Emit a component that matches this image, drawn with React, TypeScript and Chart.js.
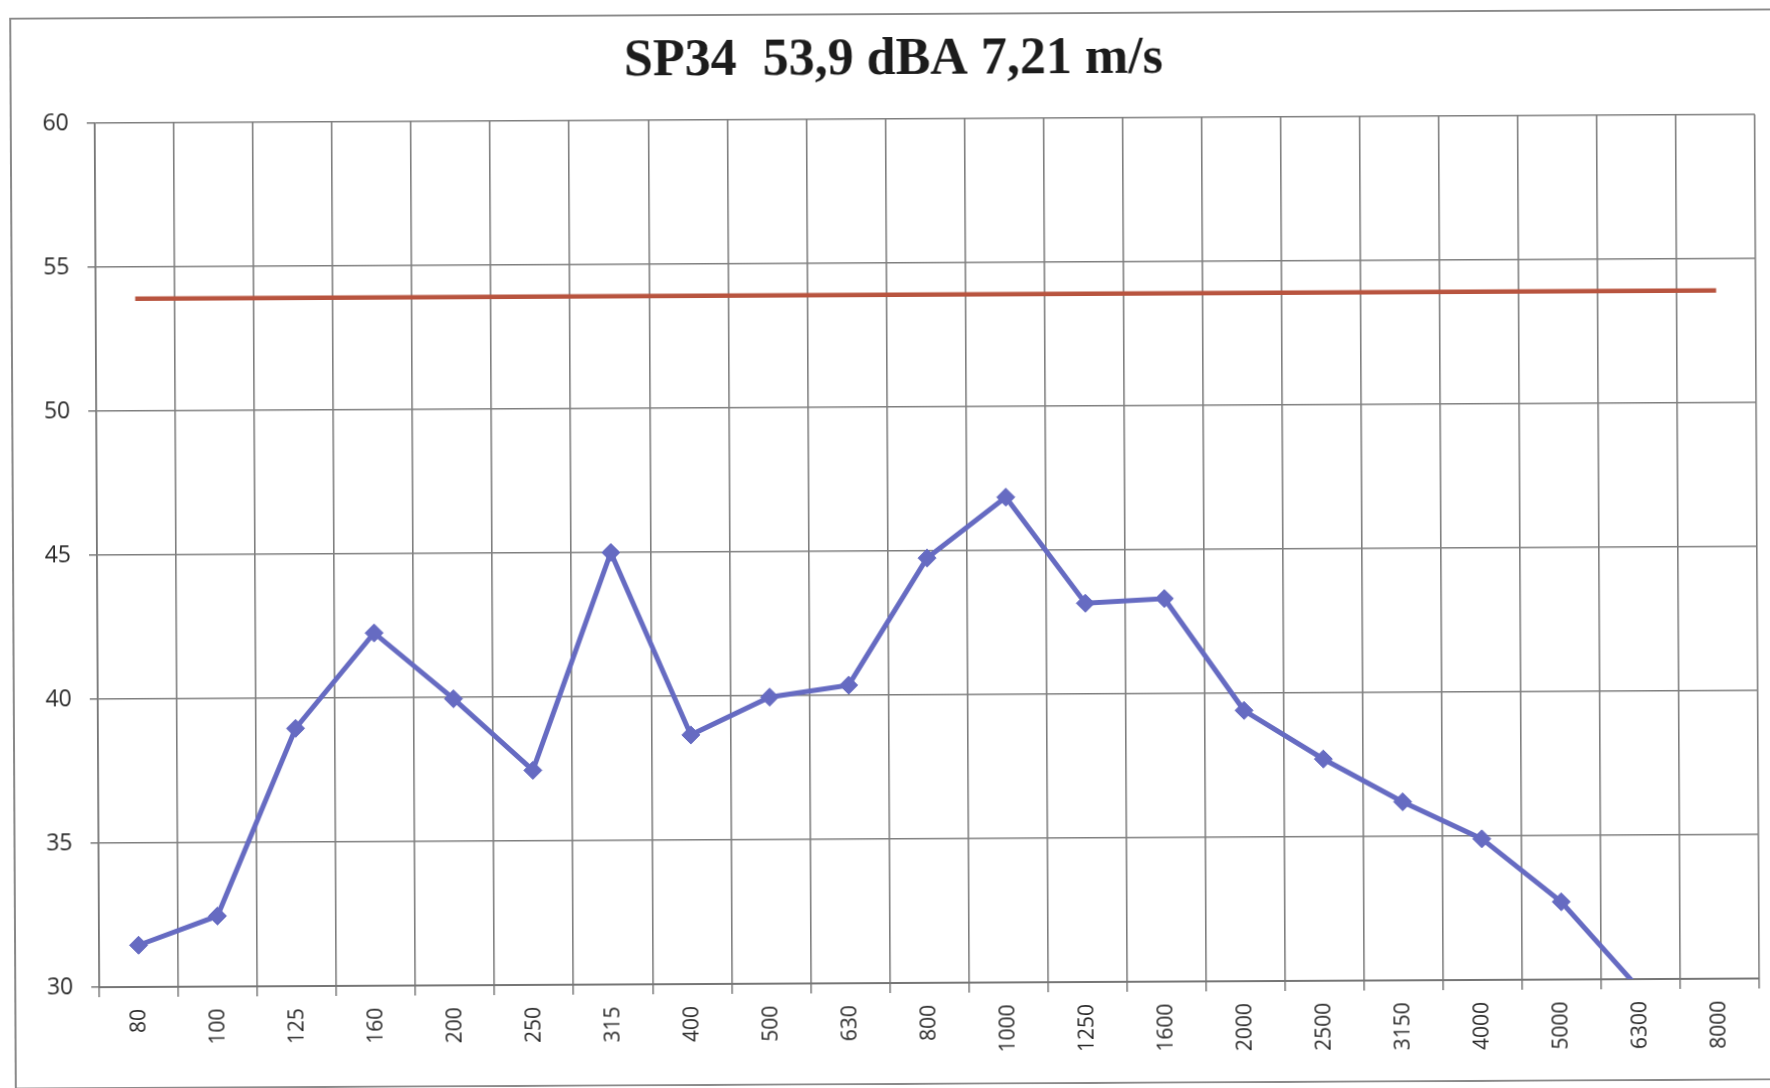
import React, { useEffect, useRef } from "react";
import { Chart, registerables } from "chart.js";

Chart.register(...registerables);

const frequencies = ["80", "100", "125", "160", "200", "250", "315", "400", "500", "630", "800", "1000", "1250", "1600", "2000", "2500", "3150", "4000", "5000", "6300", "8000"];
const spectrum = [31.45, 32.45, 38.95, 42.25, 39.95, 37.45, 45.0, 38.65, 39.95, 40.35, 44.75, 46.85, 43.15, 43.3, 39.4, 37.7, 36.2, 34.9, 32.7, 29.6, null];
const totalLevel = [53.9, 53.9, 53.9, 53.9, 53.9, 53.9, 53.9, 53.9, 53.9, 53.9, 53.9, 53.9, 53.9, 53.9, 53.9, 53.9, 53.9, 53.9, 53.9, 53.9, 53.9];
const yMin = 30;
const yMax = 60;
const yStep = 5;
const titleText = "SP34  53,9 dBA 7,21 m/s";

const CANVAS_W = 1768;
const CANVAS_H = 1072;

const framePlugin = {
  id: "frame",
  beforeDraw(chart: any) {
    const { ctx, width, height } = chart;
    ctx.save();
    ctx.fillStyle = "#ffffff";
    ctx.fillRect(0, 0, width, height);
    ctx.strokeStyle = "#8a8a8a";
    ctx.lineWidth = 2;
    ctx.strokeRect(1, 1, width - 2, height - 2);
    ctx.restore();
  },
};

export default function App() {
  const ref = useRef<HTMLCanvasElement | null>(null);

  useEffect(() => {
    if (!ref.current) return;
    const gridColor = "#808080";
    const chart = new Chart(ref.current, {
      type: "line",
      data: {
        labels: frequencies,
        datasets: [
          {
            label: "Spectrum",
            data: spectrum,
            borderColor: "#666bc2",
            backgroundColor: "#666bc2",
            borderWidth: 5,
            pointStyle: "rectRot",
            pointRadius: 9,
            pointHoverRadius: 9,
            pointBorderWidth: 1,
            tension: 0,
            spanGaps: false,
            clip: 0,
          },
          {
            label: "Total",
            data: totalLevel,
            borderColor: "#b8543f",
            backgroundColor: "#b8543f",
            borderWidth: 4.5,
            pointRadius: 0,
            tension: 0,
            clip: 0,
          },
        ],
      },
      options: {
        animation: false,
        responsive: false,
        devicePixelRatio: 1,
        layout: { padding: { left: 23, right: 23, top: 0, bottom: 0 } },
        plugins: {
          legend: { display: false },
          tooltip: { enabled: false },
          title: {
            display: true,
            text: titleText,
            color: "#1c1c1c",
            font: { family: "'Liberation Serif', serif", size: 52, weight: "bold", lineHeight: 1.2 },
            padding: { top: 16, bottom: 27.6 },
          },
        },
        scales: {
          x: {
            type: "category",
            offset: true,
            grid: { offset: true, color: gridColor, lineWidth: 1.6, tickLength: 10, tickColor: gridColor },
            border: { color: "#767676", width: 2 },
            ticks: {
              autoSkip: false,
              maxRotation: 90,
              minRotation: 90,
              padding: 12,
              color: "#2a2a2a",
              font: { family: "'Open Sans', sans-serif", size: 21 },
            },
            afterFit(scale: any) {
              scale.height = 102;
            },
          },
          y: {
            min: yMin,
            max: yMax,
            grid: { color: gridColor, lineWidth: 1.6, tickLength: 8, tickColor: gridColor },
            border: { color: "#767676", width: 1.6 },
            ticks: {
              stepSize: yStep,
              padding: 18,
              color: "#2a2a2a",
              font: { family: "'Open Sans', sans-serif", size: 23 },
            },
            afterFit(scale: any) {
              scale.width = 62;
            },
          },
        },
      },
      plugins: [framePlugin],
    });
    return () => chart.destroy();
  }, []);

  return (
    <div style={{ position: "absolute", left: 0, top: 0, width: 1770, height: 1088, overflow: "hidden", background: "#ffffff" }}>
      <canvas
        ref={ref}
        width={CANVAS_W}
        height={CANVAS_H}
        style={{ position: "absolute", left: 12, top: 13, width: CANVAS_W, height: CANVAS_H, transform: "rotate(-0.3deg)" }}
      />
    </div>
  );
}
